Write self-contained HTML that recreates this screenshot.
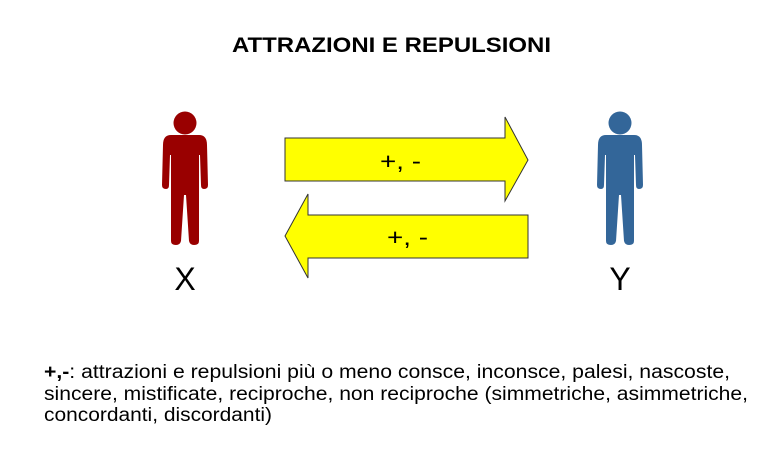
<!DOCTYPE html>
<html><head><style>body{margin:0;background:#fff}</style></head><body>
<svg width="780" height="452" xmlns="http://www.w3.org/2000/svg" font-family="Liberation Sans, Arial, sans-serif">
<rect width="780" height="452" fill="#fff"/>
<text x="232" y="52" font-size="21" font-weight="bold" textLength="319" lengthAdjust="spacingAndGlyphs">ATTRAZIONI E REPULSIONI</text>
<defs>
<g id="p">
<circle cx="0" cy="0" r="11.5"/>
<path d="M-14,12 Q-22,12 -22,22 L-23,62 Q-23,66 -19,66 Q-16,66 -16,62 L-15,32 L-14,32 L-14,118 Q-14,122 -9,122 Q-5,122 -4,118 L-1,72 L1,72 L4,118 Q5,122 9,122 Q14,122 14,118 L14,32 L15,32 L16,62 Q16,66 19,66 Q23,66 23,62 L22,22 Q22,12 14,12 Z"/>
</g>
</defs>
<use href="#p" x="185" y="123" fill="#990000"/>
<use href="#p" x="620" y="123" fill="#336699"/>
<path d="M285,138 L505,138 L505,117 L528,160 L505,201 L505,181 L285,181 Z" fill="#ffff00" stroke="#333" stroke-width="1"/>
<path d="M528,215 L308,215 L308,194 L285,236 L308,278 L308,258 L528,258 Z" fill="#ffff00" stroke="#333" stroke-width="1"/>
<text x="380" y="169" font-size="23" textLength="41" lengthAdjust="spacingAndGlyphs">+,  -</text>
<text x="387" y="245" font-size="23" textLength="41" lengthAdjust="spacingAndGlyphs">+,  -</text>
<text x="185" y="290" text-anchor="middle" font-size="32">X</text>
<text x="620" y="290" text-anchor="middle" font-size="32">Y</text>
<g font-size="19">
<text x="44" y="378" textLength="686" lengthAdjust="spacingAndGlyphs"><tspan font-weight="bold">+,-</tspan>: attrazioni e repulsioni più o meno consce, inconsce, palesi, nascoste,</text>
<text x="44" y="400" textLength="704" lengthAdjust="spacingAndGlyphs">sincere, mistificate, reciproche, non reciproche (simmetriche, asimmetriche,</text>
<text x="44" y="421" textLength="228" lengthAdjust="spacingAndGlyphs">concordanti, discordanti)</text>
</g>
</svg>
</body></html>
